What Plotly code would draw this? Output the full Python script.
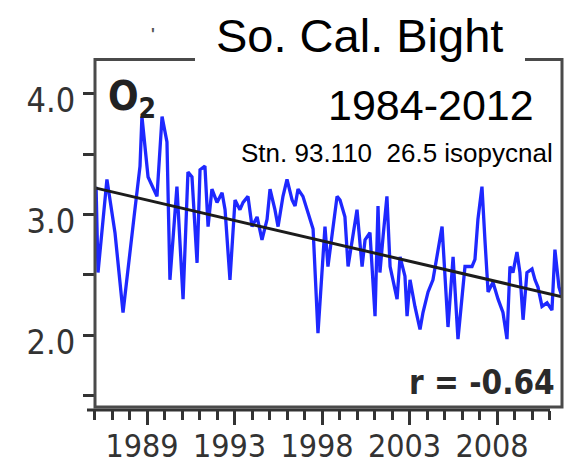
import plotly.graph_objects as go

# ---- data ----
years = [1985.09, 1985.20, 1985.71, 1986.17, 1986.63, 1987.14, 1987.26, 1987.60, 1987.71, 1988.06,
         1988.57, 1988.86, 1989.14, 1989.31, 1989.71, 1990.06, 1990.34, 1990.57, 1990.86, 1991.03,
         1991.31, 1991.49, 1991.71, 1992.00, 1992.29, 1992.46, 1992.74, 1993.03, 1993.31, 1993.49,
         1993.77, 1994.00, 1994.29, 1994.57, 1994.86, 1995.03, 1995.31, 1995.49, 1995.77, 1996.00,
         1996.29, 1996.46, 1996.63, 1996.91, 1997.14, 1997.31, 1997.49, 1997.77, 1998.00, 1998.17,
         1998.34, 1998.57, 1998.86, 1999.03, 1999.31, 1999.49, 1999.77, 2000.00, 2000.29, 2000.46,
         2000.74, 2001.03, 2001.20, 2001.31, 2001.49, 2001.71, 2001.89, 2002.06, 2002.29, 2002.46,
         2002.74, 2002.86, 2003.03, 2003.31, 2003.60, 2003.77, 2004.06, 2004.34, 2004.63, 2004.86,
         2005.20, 2005.49, 2005.77, 2006.00, 2006.17, 2006.57, 2006.74, 2006.91, 2007.14, 2007.31,
         2007.49, 2007.77, 2008.06, 2008.34, 2008.57, 2008.74, 2008.91, 2009.14, 2009.31, 2009.49,
         2009.71, 2010.00, 2010.17, 2010.34, 2010.57, 2010.86, 2011.14, 2011.31, 2011.54, 2011.71]
o2 = [3.23, 2.52, 3.29, 2.85, 2.19, 2.79, 2.98, 3.40, 3.81, 3.31,
      3.15, 3.81, 3.60, 2.46, 3.23, 2.30, 3.35, 3.31, 2.60, 3.37,
      3.40, 2.90, 3.21, 3.10, 3.18, 3.04, 2.46, 3.12, 3.04, 3.10,
      3.15, 2.90, 2.98, 2.79, 2.96, 3.21, 3.04, 2.90, 3.15, 3.29,
      3.12, 3.07, 3.21, 3.15, 3.04, 2.98, 2.88, 2.02, 2.57, 2.90,
      2.57, 2.85, 3.15, 3.12, 2.98, 2.57, 2.85, 3.04, 2.57, 2.79,
      2.85, 2.16, 3.07, 2.52, 2.82, 3.15, 2.57, 2.46, 2.30, 2.65,
      2.49, 2.16, 2.46, 2.24, 2.05, 2.19, 2.36, 2.46, 2.71, 2.90,
      2.07, 2.65, 1.97, 2.30, 2.57, 2.57, 2.63, 2.96, 3.23, 2.79,
      2.36, 2.44, 2.30, 2.19, 1.97, 2.57, 2.52, 2.69, 2.52, 2.13,
      2.52, 2.55, 2.46, 2.40, 2.24, 2.27, 2.21, 2.71, 2.40, 2.32]

trend_years = [1985.03, 2011.71]
trend_o2 = [3.22, 2.32]

major_tick_years = [1988, 1993, 1998, 2003, 2008]
major_tick_labels = ["1989", "1993", "1998", "2003", "2008"]
y_tick_vals = [1.5, 2.0, 2.5, 3.0, 3.5, 4.0]
y_tick_text = ["", "2.0", "", "3.0", "", "4.0"]

title_text = "So. Cal. Bight"
period_text = "1984-2012"
station_text = "Stn. 93.110 \u00a026.5 isopycnal"
var_text = "O<sub>2</sub>"
r_text = "r = -0.64"

NARROW = "DejaVu Sans Condensed, Liberation Sans, sans-serif"
SANS = "Liberation Sans, Arial, sans-serif"

fig = go.Figure()
fig.add_trace(go.Scatter(x=years, y=o2, mode="lines",
                         line=dict(color="rgb(30,40,255)", width=3.3),
                         showlegend=False, hoverinfo="skip"))
fig.add_trace(go.Scatter(x=trend_years, y=trend_o2, mode="lines",
                         line=dict(color="#1c1c1c", width=3),
                         showlegend=False, hoverinfo="skip"))

fig.update_layout(
    width=570, height=464,
    margin=dict(l=87, r=8, t=60, b=54, autoexpand=False),
    paper_bgcolor="white", plot_bgcolor="white",
    xaxis=dict(range=[1984.571, 2011.714], showgrid=False, zeroline=False, showline=False,
               automargin=False,
               tickmode="array", tickvals=major_tick_years, ticktext=major_tick_labels,
               ticks="outside", ticklen=14, tickwidth=2.5, tickcolor="#333",
               minor=dict(dtick=1, tick0=1988, ticks="outside", ticklen=9, tickwidth=2.5,
                          tickcolor="#333", showgrid=False),
               tickfont=dict(family=NARROW, size=32, color="#333"),
               ticklabelstandoff=-6, ticklabelshift=-5),
    yaxis=dict(range=[1.384, 4.277], showgrid=False, zeroline=False, showline=False,
               automargin=False,
               anchor="free", position=(95 - 87) / 475,
               tickmode="array", tickvals=y_tick_vals, ticktext=y_tick_text,
               ticks="outside", ticklen=12, tickwidth=3, tickcolor="#333",
               tickfont=dict(family=NARROW, size=34, color="#333"),
               ticklabelstandoff=1, ticklabelshift=7),
)

shapes = [
    dict(type="rect", xref="paper", yref="paper", x0=(95 - 87) / 475, x1=1.0,
         y0=(410 - 407) / 350, y1=(410 - 59.5) / 350,
         line=dict(color="#4a4a4a", width=3), fillcolor="rgba(0,0,0,0)", layer="above"),
    dict(type="line", xref="paper", yref="paper", x0=0, x1=(550 - 87) / 475, y0=0, y1=0,
         line=dict(color="#333", width=3), layer="above"),
    dict(type="rect", xref="paper", yref="paper", x0=(195 - 87) / 475, x1=(525 - 87) / 475,
         y0=(410 - 71) / 350, y1=(410 + 5) / 350,
         line=dict(width=0), fillcolor="white", layer="above"),
]
fig.update_layout(shapes=shapes)

def px_x(px):
    return (px - 87) / 475

def px_y(py):
    return (410 - py) / 350

annotations = [
    dict(text=title_text, x=px_x(359), y=px_y(35), xanchor="center", yanchor="middle",
         font=dict(family=SANS, size=47, color="black")),
    dict(text=period_text, x=px_x(536), y=px_y(105), xanchor="right", yanchor="middle",
         font=dict(family=SANS, size=43, color="black")),
    dict(text=station_text, x=px_x(555), y=px_y(153), xanchor="right", yanchor="middle",
         font=dict(family=SANS, size=26, color="black")),
    dict(text="<b>" + var_text + "</b>", x=px_x(106), y=px_y(99), xanchor="left", yanchor="middle",
         font=dict(family=NARROW, size=40, color="#222")),
    dict(text="<b>" + r_text + "</b>", x=px_x(557), y=px_y(382), xanchor="right", yanchor="middle",
         font=dict(family=NARROW, size=33, color="#2a2a2a")),
    dict(text="<b>'</b>", x=px_x(153), y=px_y(34), xanchor="center", yanchor="middle",
         font=dict(family=SANS, size=16, color="#555")),
]
for a in annotations:
    a.update(xref="paper", yref="paper", showarrow=False)
fig.update_layout(annotations=annotations)

fig.write_html("out.html", config={"displayModeBar": False},
               post_script="document.body.style.margin='0px';")
